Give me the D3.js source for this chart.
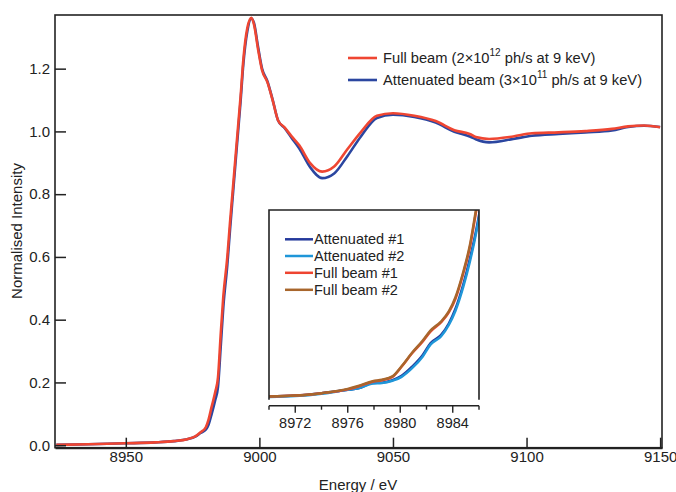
<!DOCTYPE html>
<html>
<head>
<meta charset="utf-8">
<script src="https://cdn.jsdelivr.net/npm/d3@7"></script>
<style>
  html, body { margin: 0; padding: 0; background: #fff; }
  svg { display: block; }
  text { font-family: "Liberation Sans", Arial, sans-serif; fill: #222; }
</style>
</head>
<body>
<svg id="chart" width="676" height="492"></svg>
<script>
// ---------- Main chart data ----------
const energy = [8924, 8936, 8950, 8961, 8968, 8973, 8976, 8978, 8980, 8981, 8982, 8983.5, 8984.5, 8985.5, 8986.5, 8988, 8989, 8990, 8991.5, 8993, 8994, 8995.5, 8997, 8998, 8999.5, 9001, 9003, 9005, 9007, 9009.5, 9012, 9015, 9019, 9023.5, 9028, 9033, 9038, 9044, 9050, 9058, 9066, 9073, 9079, 9081, 9086, 9095, 9102, 9112, 9122, 9132, 9138, 9144, 9150];
const fullBeam = [0.001, 0.003, 0.006, 0.009, 0.013, 0.019, 0.028, 0.041, 0.058, 0.082, 0.118, 0.17, 0.215, 0.35, 0.474, 0.60, 0.709, 0.81, 0.963, 1.115, 1.229, 1.33, 1.362, 1.340, 1.262, 1.195, 1.157, 1.098, 1.035, 1.012, 0.985, 0.955, 0.899, 0.872, 0.888, 0.944, 0.998, 1.050, 1.058, 1.050, 1.033, 1.004, 0.991, 0.982, 0.976, 0.984, 0.994, 0.997, 1.001, 1.008, 1.016, 1.019, 1.013];
const attenuated = [0.001, 0.003, 0.006, 0.009, 0.013, 0.019, 0.027, 0.039, 0.050, 0.066, 0.095, 0.145, 0.185, 0.31, 0.44, 0.575, 0.685, 0.79, 0.945, 1.10, 1.215, 1.32, 1.36, 1.345, 1.27, 1.20, 1.16, 1.10, 1.035, 1.01, 0.98, 0.945, 0.886, 0.851, 0.866, 0.922, 0.984, 1.043, 1.053, 1.046, 1.028, 0.999, 0.983, 0.975, 0.965, 0.976, 0.986, 0.992, 0.997, 1.003, 1.014, 1.018, 1.014];
const xTicks = [8950, 9000, 9050, 9100, 9150];
const yTicks = [0.0, 0.2, 0.4, 0.6, 0.8, 1.0, 1.2];

// ---------- Inset data ----------
const insetEnergy = [8970, 8972, 8974, 8976, 8976.8, 8977.9, 8978.6, 8979.4, 8980.1, 8980.9, 8981.7, 8982.3, 8983.1, 8983.7, 8984.2, 8984.8, 8985.3, 8985.8, 8986.2];
const attenuated1 = [0.012, 0.014, 0.019, 0.026, 0.029, 0.040, 0.041, 0.046, 0.055, 0.074, 0.098, 0.123, 0.140, 0.164, 0.194, 0.245, 0.298, 0.36, 0.42];
const attenuated2 = [0.011, 0.013, 0.018, 0.026, 0.029, 0.039, 0.040, 0.045, 0.053, 0.071, 0.095, 0.120, 0.137, 0.161, 0.190, 0.240, 0.292, 0.355, 0.415];
const fullBeam1 = [0.012, 0.014, 0.019, 0.027, 0.033, 0.043, 0.046, 0.053, 0.074, 0.102, 0.126, 0.147, 0.166, 0.187, 0.215, 0.268, 0.322, 0.40, 0.46];
const fullBeam2 = [0.012, 0.014, 0.019, 0.028, 0.034, 0.044, 0.047, 0.054, 0.075, 0.103, 0.128, 0.149, 0.168, 0.189, 0.218, 0.271, 0.326, 0.405, 0.465];
const insetMajorTicks = [8972, 8976, 8980, 8984];
const insetMinorTicks = [8970, 8974, 8978, 8982, 8986];

const mainLegend = [
  { name: "Full beam", pre: "Full beam (2×10", sup: "12", post: " ph/s at 9 keV)", color: "#ef4632" },
  { name: "Attenuated beam", pre: "Attenuated beam (3×10", sup: "11", post: " ph/s at 9 keV)", color: "#2b46a0" }
];
const insetSeries = [
  { name: "Attenuated #1", values: attenuated1, color: "#24399b" },
  { name: "Attenuated #2", values: attenuated2, color: "#1f96d8" },
  { name: "Full beam #1", values: fullBeam1, color: "#ee4430" },
  { name: "Full beam #2", values: fullBeam2, color: "#a8662c" }
];

// ---------- Drawing ----------
const svg = d3.select("#chart");
const M = { left: 55, right: 662, top: 15, bottom: 447.7 };

const x = d3.scaleLinear().domain([8923.5, 9150.7]).range([M.left, M.right]);
const y = d3.scaleLinear().domain([-0.008, 1.371]).range([M.bottom, M.top]);

svg.append("clipPath").attr("id", "mainClip")
  .append("rect").attr("x", M.left).attr("y", M.top)
  .attr("width", M.right - M.left).attr("height", M.bottom - M.top);

const mainLine = vals => d3.line()
  .x((d, i) => x(energy[i])).y(d => y(d))
  .curve(d3.curveMonotoneX)(vals);

const gMain = svg.append("g").attr("clip-path", "url(#mainClip)");
gMain.append("path").attr("d", mainLine(attenuated))
  .attr("fill", "none").attr("stroke", mainLegend[1].color).attr("stroke-width", 2.6).attr("stroke-linejoin", "round");
gMain.append("path").attr("d", mainLine(fullBeam))
  .attr("fill", "none").attr("stroke", mainLegend[0].color).attr("stroke-width", 2.6).attr("stroke-linejoin", "round");

// frame
svg.append("rect").attr("x", M.left).attr("y", M.top)
  .attr("width", M.right - M.left).attr("height", M.bottom - M.top)
  .attr("fill", "none").attr("stroke", "#222").attr("stroke-width", 1.6);

// y axis (inward ticks)
const yAxis = d3.axisLeft(y).tickValues(yTicks).tickFormat(d3.format(".1f")).tickSizeInner(-11).tickSizeOuter(0).tickPadding(5);
const gy = svg.append("g").attr("transform", `translate(${M.left},0)`).call(yAxis);
gy.select(".domain").remove();
gy.selectAll(".tick line").attr("stroke", "#222").attr("stroke-width", 1.5);
gy.selectAll(".tick text").attr("font-size", 15).attr("fill", "#222")
  .attr("font-family", "Liberation Sans, Arial, sans-serif");

// x axis (inward ticks)
const xAxis = d3.axisBottom(x).tickValues(xTicks).tickFormat(d3.format("d")).tickSizeInner(-10).tickSizeOuter(0).tickPadding(4);
const gx = svg.append("g").attr("transform", `translate(0,${M.bottom})`).call(xAxis);
gx.select(".domain").attr("stroke", "#222").attr("stroke-width", 2);
gx.selectAll(".tick line").attr("stroke", "#222").attr("stroke-width", 1.5);
gx.selectAll(".tick text").attr("font-size", 15).attr("fill", "#222")
  .attr("font-family", "Liberation Sans, Arial, sans-serif");

// axis titles
svg.append("text").attr("x", 358).attr("y", 490).attr("text-anchor", "middle")
  .attr("font-size", 15).text("Energy / eV");
svg.append("text").attr("transform", "translate(22,231) rotate(-90)").attr("text-anchor", "middle")
  .attr("font-size", 15).text("Normalised Intensity");

// main legend
const legY = [58, 80];
mainLegend.forEach((s, i) => {
  svg.append("line").attr("x1", 348).attr("x2", 377).attr("y1", legY[i]).attr("y2", legY[i])
    .attr("stroke", s.color).attr("stroke-width", 2.6);
  const t = svg.append("text").attr("x", 383).attr("y", legY[i] + 5).attr("font-size", 14.7);
  t.append("tspan").text(s.pre);
  t.append("tspan").attr("font-size", 10).attr("dy", -7).text(s.sup);
  t.append("tspan").attr("dy", 7).text(s.post);
});

// ---------- Inset ----------
const I = { left: 269, right: 479, top: 210, bottom: 405.7 };
const xi = d3.scaleLinear().domain([8970, 8986]).range([I.left, I.right]);
const yi = d3.scaleLinear().domain([-0.007, 0.40]).range([I.bottom, I.top]);

svg.append("rect").attr("x", I.left).attr("y", I.top)
  .attr("width", I.right - I.left).attr("height", I.bottom - I.top).attr("fill", "#fff");

svg.append("clipPath").attr("id", "insetClip")
  .append("rect").attr("x", I.left).attr("y", I.top)
  .attr("width", I.right - I.left).attr("height", I.bottom - I.top);

const insetLine = vals => d3.line()
  .x((d, i) => xi(insetEnergy[i])).y(d => yi(d))
  .curve(d3.curveMonotoneX)(vals);

const gIn = svg.append("g").attr("clip-path", "url(#insetClip)");
insetSeries.forEach(s => {
  gIn.append("path").attr("d", insetLine(s.values))
    .attr("fill", "none").attr("stroke", s.color).attr("stroke-width", 2.5).attr("stroke-linejoin", "round");
});

// inset frame (top, left, right), slight gap before the axis
svg.append("path")
  .attr("d", `M${I.left},${I.bottom - 6}V${I.top}H${I.right}V${I.bottom - 6}`)
  .attr("fill", "none").attr("stroke", "#222").attr("stroke-width", 1.6);

// inset x axis with outward ticks
const gxi = svg.append("g").attr("transform", `translate(0,${I.bottom})`);
gxi.append("line").attr("x1", I.left).attr("x2", I.right).attr("y1", 0).attr("y2", 0)
  .attr("stroke", "#222").attr("stroke-width", 1.6);
gxi.selectAll("line.major").data(insetMajorTicks).join("line").attr("class", "major")
  .attr("x1", d => xi(d)).attr("x2", d => xi(d)).attr("y1", 0).attr("y2", 7)
  .attr("stroke", "#222").attr("stroke-width", 1.4);
gxi.selectAll("line.minor").data(insetMinorTicks).join("line").attr("class", "minor")
  .attr("x1", d => xi(d)).attr("x2", d => xi(d)).attr("y1", 0).attr("y2", 4)
  .attr("stroke", "#222").attr("stroke-width", 1.4);
gxi.selectAll("text").data(insetMajorTicks).join("text")
  .attr("x", d => xi(d)).attr("y", 22).attr("text-anchor", "middle")
  .attr("font-size", 14.5).text(d => d);

// inset legend
const inLegY = [239.3, 256, 272.8, 289.8];
insetSeries.forEach((s, i) => {
  svg.append("line").attr("x1", 285).attr("x2", 313).attr("y1", inLegY[i]).attr("y2", inLegY[i])
    .attr("stroke", s.color).attr("stroke-width", 2.5);
  svg.append("text").attr("x", 314).attr("y", inLegY[i] + 5).attr("font-size", 14.5).text(s.name);
});
</script>
</body>
</html>
